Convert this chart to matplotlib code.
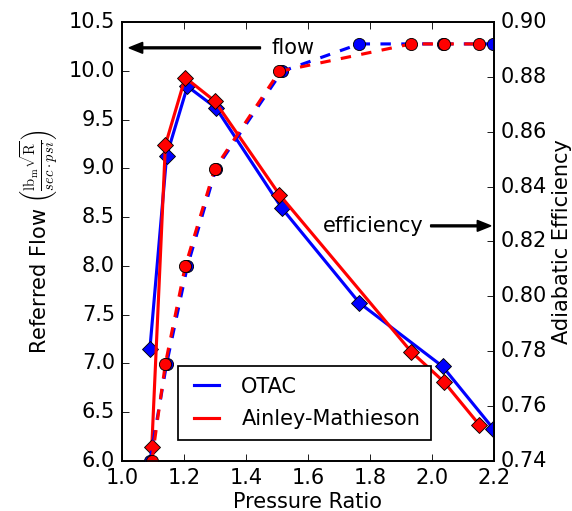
import matplotlib
matplotlib.use("Agg")
import matplotlib.pyplot as plt

plt.style.use("classic")

# Compressor map samples: pressure ratio, referred flow and adiabatic efficiency
otac_pr = [1.090, 1.144, 1.211, 1.303, 1.516, 1.766, 2.034, 2.198]
otac_flow = [7.15, 9.13, 9.84, 9.62, 8.59, 7.62, 6.97, 6.33]
otac_eff = [0.740, 0.7755, 0.811, 0.8465, 0.882, 0.892, 0.892, 0.892]

am_pr = [1.096, 1.140, 1.204, 1.299, 1.508, 1.933, 2.039, 2.153]
am_flow = [6.14, 9.24, 9.93, 9.69, 8.73, 7.12, 6.81, 6.37]
am_eff = [0.740, 0.7755, 0.811, 0.8465, 0.882, 0.892, 0.892, 0.892]

series_names = ["OTAC", "Ainley-Mathieson"]
series_colors = ["b", "r"]

x_ticks = [1.0, 1.2, 1.4, 1.6, 1.8, 2.0, 2.2]
flow_ticks = [6.0, 6.5, 7.0, 7.5, 8.0, 8.5, 9.0, 9.5, 10.0, 10.5]
eff_ticks = [0.74, 0.76, 0.78, 0.80, 0.82, 0.84, 0.86, 0.88, 0.90]

fig = plt.figure(figsize=(4.576, 4.088), dpi=125, facecolor="white")
ax1 = fig.add_axes([0.2133, 0.0978, 0.6503, 0.8592])
ax2 = ax1.twinx()

lw = 1.8
edge = dict(mec="k", mew=0.5)

# referred flow: solid lines with diamonds
for pr, flow, c in zip([otac_pr, am_pr], [otac_flow, am_flow], series_colors):
    ax1.plot(pr, flow, "-", color=c, lw=lw)
    ax1.plot(pr, flow, "D", color=c, ms=6.2, **edge)

# efficiency: dashed lines with circles
handles = []
for pr, eff, c, name in zip([otac_pr, am_pr], [otac_eff, am_eff], series_colors, series_names):
    ax2.plot(pr, eff, "--", color=c, lw=lw)
    ax2.plot(pr, eff, "o", color=c, ms=7, **edge)
    h, = ax2.plot([], [], "-", color=c, lw=lw, label=name)
    handles.append(h)

ax1.set_xlim(1.0, 2.2)
ax1.set_ylim(6.0, 10.5)
ax2.set_ylim(0.74, 0.90)
ax1.set_xticks(x_ticks)
ax1.set_yticks(flow_ticks)
ax2.set_yticks(eff_ticks)
ax1.set_xticklabels(["%.1f" % v for v in x_ticks])
ax1.set_yticklabels(["%.1f" % v for v in flow_ticks])
ax2.set_yticklabels(["%.2f" % v for v in eff_ticks])

ax1.set_xlabel("Pressure Ratio", fontsize=12, labelpad=2.5)
ax1.set_ylabel(r"Referred Flow $\left(\frac{\mathrm{lb_m}\sqrt{\mathrm{R}}}{sec\cdot psi}\right)$",
               fontsize=12, labelpad=5)
ax2.set_ylabel("Adiabatic Efficiency", fontsize=12, labelpad=2.5)

arrow = dict(facecolor="black", width=0.9, headwidth=6, headlength=7.5, shrink=0.05)
ax1.annotate("flow", xy=(1.0, 10.235), xytext=(1.483, 10.235), va="center",
             fontsize=12, arrowprops=arrow)
ax2.annotate("efficiency", xy=(2.2, 0.8257), xytext=(1.647, 0.8257), va="center",
             fontsize=12, arrowprops=arrow)

ax2.legend(handles=handles, loc="lower left", bbox_to_anchor=(0.15, 0.049),
           borderaxespad=0, fontsize=12, numpoints=2, labelspacing=0.6,
           borderpad=0.5, handlelength=1.8, handletextpad=0.75)

fig.savefig("out.png", dpi=125, facecolor="white")
